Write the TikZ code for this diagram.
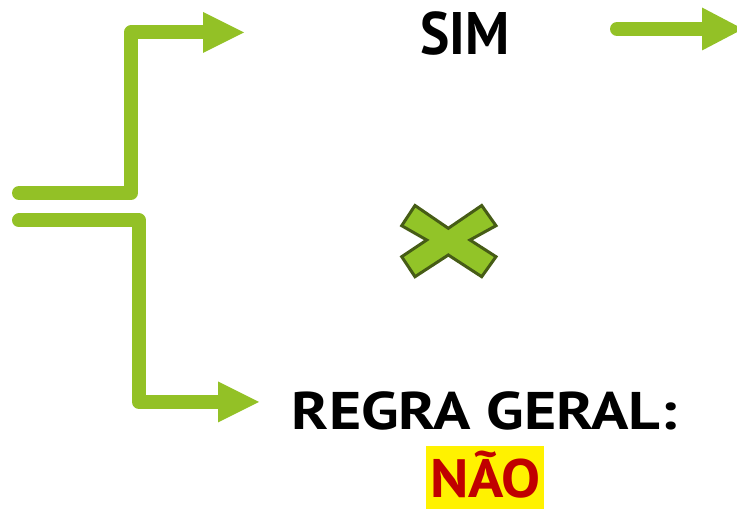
\documentclass[tikz,border=0pt]{standalone}
\usepackage{fontspec}
\setmainfont{PT Sans}
\usetikzlibrary{arrows.meta}
\definecolor{grn}{RGB}{147,193,38}
\definecolor{xfill}{RGB}{146,196,40}
\definecolor{xline}{RGB}{70,92,22}
\definecolor{naored}{RGB}{192,0,0}
\begin{document}
\begin{tikzpicture}[x=1pt,y=-1pt,
  conn/.style={draw=grn, line width=14pt, line join=round, line cap=round,
    -{Triangle[length=41pt,width=41pt,line width=0pt]}},
  lbl/.style={font=\bfseries\fontsize{53}{60}\selectfont, inner sep=0pt, anchor=base}]
\useasboundingbox (0,0) rectangle (737,510);
% coordinates
\coordinate (u0) at (19,193);
\coordinate (u1) at (131,193);
\coordinate (u2) at (131,32.5);
\coordinate (u3) at (244,32.5);
\coordinate (l0) at (19,220.5);
\coordinate (l1) at (139,220.5);
\coordinate (l2) at (139,402);
\coordinate (l3) at (259,402);
\coordinate (r0) at (617,29);
\coordinate (r1) at (743,29);
% texts
\node[lbl, font=\bfseries\fontsize{60}{70}\selectfont] (sim) at (465,55) {\scalebox{0.92}[1]{SIM}};
\node[lbl] (regra) at (484.5,430) {\scalebox{1.165}[1]{REGRA GERAL:}};
\node[fill=yellow, minimum width=118pt, minimum height=63.5pt, inner sep=0pt] (naobox) at (485,477.75) {};
\node[lbl, font=\bfseries\fontsize{54}{60}\selectfont, text=naored] (nao) at (485.5,498) {\scalebox{1.08}[1]{NÃO}};
% arrows
\draw[conn] (u0) -- (u1) -- (u2) -- (u3);
\draw[conn] (l0) -- (l1) -- (l2) -- (l3);
\draw[conn, -{Triangle[length=41pt,width=43pt,line width=0pt]}] (r0) -- (r1);
% cross
\draw[fill=xfill, draw=xline, line width=3pt, line join=miter]
  (448.3,228.3) -- (481.7,205.5) -- (496,225.7) -- (470,240) -- (496,256.7)
  -- (481.7,276.7) -- (448.3,255) -- (415,276.7) -- (401.7,256.7) -- (426.7,240)
  -- (401.7,225.7) -- (415,205.5) -- cycle;
\end{tikzpicture}
\end{document}
